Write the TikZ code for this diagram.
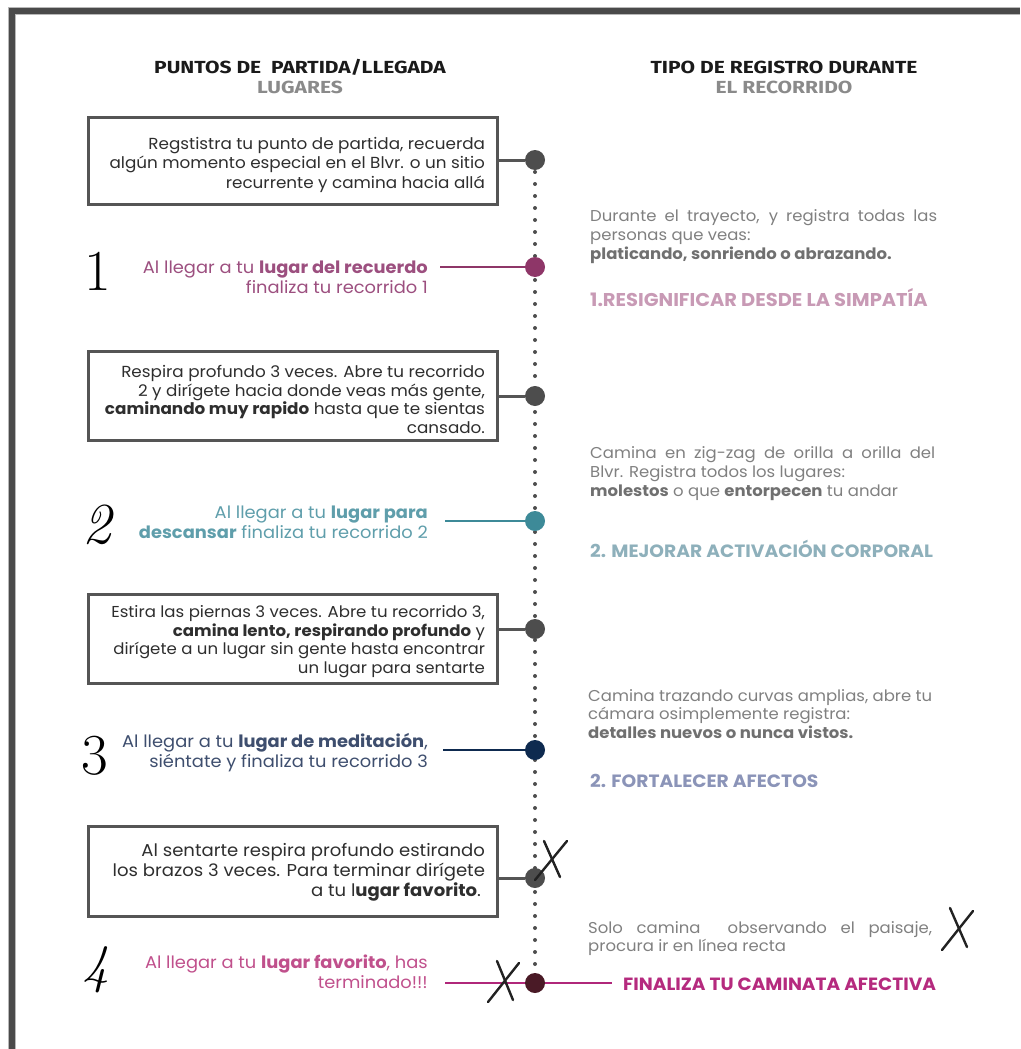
\documentclass[tikz,border=0pt]{standalone}
\usepackage{fontspec}
\setsansfont{Poppins}[FakeStretch=1.05]
\newfontfamily\hdfont{Fira Sans}[FakeStretch=1.2]
\usetikzlibrary{backgrounds}
\definecolor{framec}{HTML}{4A4A4A}
\definecolor{frameh}{HTML}{B8B8B8}
\definecolor{boxc}{HTML}{555555}
\definecolor{boxtxt}{HTML}{2E2E2E}
\definecolor{graytxt}{HTML}{808080}
\definecolor{graybold}{HTML}{707070}
\definecolor{hdblack}{HTML}{1A1A1A}
\definecolor{hdgray}{HTML}{8A8A8A}
\definecolor{dotgray}{HTML}{4D4D4D}
\definecolor{pinktxt}{HTML}{9C4F7F}
\definecolor{pinkln}{HTML}{8E3668}
\definecolor{tealtxt}{HTML}{5F9EAB}
\definecolor{tealln}{HTML}{3D8A98}
\definecolor{navytxt}{HTML}{3E4E6E}
\definecolor{navyln}{HTML}{0E2A4F}
\definecolor{favtxt}{HTML}{C0508C}
\definecolor{favln}{HTML}{B0277A}
\definecolor{favdot}{HTML}{4A1A26}
\definecolor{fintxt}{HTML}{B52A7E}
\definecolor{headA}{HTML}{C89AB5}
\definecolor{headB}{HTML}{8EB0BB}
\definecolor{headC}{HTML}{8B94B8}
\definecolor{xcol}{HTML}{222222}
\begin{document}
\begin{tikzpicture}[x=1pt,y=-1pt,font=\sffamily,
  stepbox/.style={draw=boxc,line width=3pt,minimum width=409pt,inner sep=0pt,outer sep=0pt,text=boxtxt},
  bigdot/.style={circle,minimum size=20pt,inner sep=0pt,outer sep=0pt},
  dotline/.style={dotgray,line width=4pt,line cap=round,dash pattern=on 0pt off 12pt},
  conn/.style={line width=3pt,boxc},
  lbl/.style={anchor=base east,inner sep=0pt},
  rtxt/.style={anchor=base west,inner sep=0pt,text=graytxt},
  hd/.style={anchor=base,inner sep=0pt,font=\hdfont\bfseries\fontsize{17.5}{17.5}\selectfont},
  num/.style={inner sep=0pt,anchor=base,font=\rmfamily\fontsize{58}{58}\selectfont,text=black},
  xmark/.style={xcol,line width=2.4pt,line cap=round}]
\useasboundingbox (0,0) rectangle (1020,1049);
% frame
\draw[frameh,line width=7.5pt] (12,1049) -- (12,11) -- (1020,11);
\draw[framec,line width=6pt] (12,1049) -- (12,11) -- (1020,11);
% headers
\node[hd,text=hdblack] (h1) at (300,74) {PUNTOS DE \ PARTIDA/LLEGADA};
\node[hd,text=hdgray] (h2) at (300,93) {LUGARES};
\node[hd,text=hdblack] (h3) at (784,74) {TIPO DE REGISTRO DURANTE};
\node[hd,text=hdgray] (h4) at (784,93) {EL RECORRIDO};
% timeline dots
\node[bigdot,fill=dotgray] (c1) at (535,160) {};
\node[bigdot,fill=pinkln] (c2) at (535,267) {};
\node[bigdot,fill=dotgray] (c3) at (535,396) {};
\node[bigdot,fill=tealln] (c4) at (535,521) {};
\node[bigdot,fill=dotgray] (c5) at (535,629) {};
\node[bigdot,fill=navyln] (c6) at (535,750) {};
\node[bigdot,fill=dotgray] (c7) at (535,878) {};
\node[bigdot,fill=favdot] (c8) at (535,983) {};
% boxes
\node[stepbox,minimum height=87pt] (b1) at (292.5,160.5) {\parbox{385pt}{\vspace*{8pt}\raggedleft\fontsize{16}{19.5}\selectfont Regstistra tu punto de partida, recuerda\\ algún momento especial en el Blvr. o un sitio\\ recurrente y camina hacia allá}};
\node[stepbox,minimum height=89pt] (b2) at (292.5,395.5) {\parbox{385pt}{\vspace*{8pt}\raggedleft\fontsize{16}{18.7}\selectfont Respira profundo 3 veces. Abre tu recorrido\\ 2 y dirígete hacia donde veas más gente,\\ \textbf{caminando muy rapido} hasta que te sientas\\ cansado.}};
\node[stepbox,minimum height=89pt] (b3) at (292.5,638.5) {\parbox{385pt}{\vspace*{6pt}\raggedleft\fontsize{15.8}{18.7}\selectfont Estira las piernas 3 veces. Abre tu recorrido 3,\\ \textbf{camina lento, respirando profundo} y\\ dirígete a un lugar sin gente hasta encontrar\\ un lugar para sentarte}};
\node[stepbox,minimum height=90pt] (b4) at (292.5,871) {\parbox{385pt}{\vspace*{2pt}\raggedleft\fontsize{17.2}{20}\selectfont Al sentarte respira profundo estirando\\ los brazos 3 veces. Para terminar dirígete\\ a tu l\textbf{ugar favorito}.\hspace*{4pt}}};
% labels
\node[lbl,text=pinktxt] (l1) at (428,273) {\parbox[t]{340pt}{\raggedleft\fontsize{17}{20}\selectfont Al llegar a tu \textbf{lugar del recuerdo}\\ finaliza tu recorrido 1}};
\node[lbl,text=tealtxt] (l2) at (428,518) {\parbox[t]{340pt}{\raggedleft\fontsize{17}{20}\selectfont Al llegar a tu \textbf{lugar para}\\ \textbf{descansar} finaliza tu recorrido 2}};
\node[lbl,text=navytxt] (l3) at (428,747) {\parbox[t]{340pt}{\raggedleft\fontsize{17}{20}\selectfont Al llegar a tu \textbf{lugar de meditación},\\ siéntate y finaliza tu recorrido 3}};
\node[lbl,text=favtxt] (l4) at (428,968) {\parbox[t]{340pt}{\raggedleft\fontsize{17}{20}\selectfont Al llegar a tu \textbf{lugar favorito}, has\\ terminado!!!}};
% numbers
\node[num] (n1) at (98,290) {1};
\node[num,font=\rmfamily\itshape\fontsize{58}{58}\selectfont] (n2) at (97,543) {2};
\node[num] (n3) at (95,774) {3};
\node[num,font=\rmfamily\itshape\fontsize{54}{54}\selectfont] (n4) at (96,982) {4};
% right texts
\node[rtxt] (r1) at (590,221) {\parbox[t]{347pt}{\fontsize{15.7}{19}\selectfont Durante el trayecto, y registra todas las\linebreak personas que veas:\\ \textcolor{graybold}{\textbf{platicando, sonriendo o abrazando.}}}};
\node[rtxt,text=headA] (t1) at (590,306) {\fontsize{18.5}{19}\selectfont\bfseries 1.RESIGNIFICAR DESDE LA SIMPATÍA};
\node[rtxt] (r2) at (590,458) {\parbox[t]{345pt}{\fontsize{15.7}{19}\selectfont Camina en zig-zag de orilla a orilla del\linebreak Blvr. Registra todos los lugares:\\ \textcolor{graybold}{\textbf{molestos}} o que \textcolor{graybold}{\textbf{entorpecen}} tu andar}};
\node[rtxt,text=headB] (t2) at (590,557) {\fontsize{17.8}{19}\selectfont\bfseries 2. MEJORAR ACTIVACIÓN CORPORAL};
\node[rtxt] (r3) at (588,701) {\parbox[t]{360pt}{\fontsize{15.7}{18.7}\selectfont Camina trazando curvas amplias, abre tu\\ cámara osimplemente registra:\\ \textcolor{graybold}{\textbf{detalles nuevos o nunca vistos.}}}};
\node[rtxt,text=headC] (t3) at (590,787) {\fontsize{17.8}{19}\selectfont\bfseries 2. FORTALECER AFECTOS};
\node[rtxt] (r4) at (588,933) {\parbox[t]{344pt}{\fontsize{15.7}{18}\selectfont Solo camina \ observando el paisaje,\linebreak procura ir en línea recta}};
\node[rtxt,text=fintxt] (fin) at (623,990) {\fontsize{17.7}{19}\selectfont\bfseries FINALIZA TU CAMINATA AFECTIVA};
% connector end coordinates
\coordinate (e1) at (440,267);
\coordinate (e2) at (445,521);
\coordinate (e3) at (443,750);
\coordinate (e4) at (445,983);
\coordinate (e5) at (612,983);
\begin{pgfonlayer}{background}
\draw[dotline] (c1.center) -- (c8.center);
\draw[conn] (b1.east |- c1) -- (c1);
\draw[conn] (b2.east |- c3) -- (c3);
\draw[conn] (b3.east |- c5) -- (c5);
\draw[conn] (b4.east |- c7) -- (c7);
\draw[pinkln,line width=2pt] (e1) -- (c2);
\draw[tealln,line width=2pt] (e2) -- (c4);
\draw[navyln,line width=2pt] (e3) -- (c6);
\draw[favln,line width=2pt] (e4) -- (e5);
\end{pgfonlayer}
% hand-drawn crosses
\draw[xmark] (535,880) -- (567,841);
\draw[xmark] (544,841) -- (560,877);
\draw[xmark] (488,1002) -- (519,963);
\draw[xmark] (497,961) -- (513,1000);
\draw[xmark] (942,950) -- (973,911);
\draw[xmark] (950,908) -- (967,947);
\end{tikzpicture}
\end{document}
